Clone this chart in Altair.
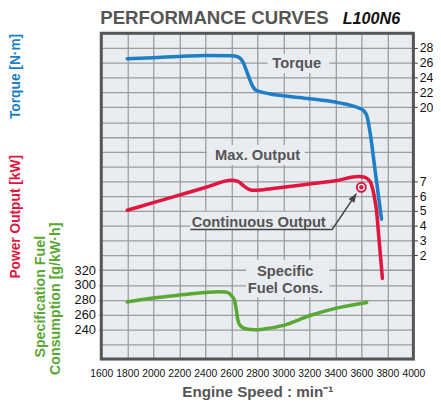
import altair as alt
import pandas as pd

# ---------------- data ----------------
torque_rpm = [1800, 2000, 2200, 2400, 2600, 2650, 2690, 2730, 2760, 2790, 2900, 3000, 3200, 3400, 3500, 3580, 3620, 3645, 3667, 3710, 3755]
torque_nm = [26.55, 26.7, 26.85, 27.0, 26.95, 26.8, 26.1, 24.3, 23.0, 22.3, 21.8, 21.55, 21.15, 20.7, 20.35, 19.9, 19.5, 18.7, 16.6, 10.9, 4.9]

power_rpm = [1800, 2000, 2200, 2400, 2600, 2650, 2700, 2760, 2850, 3000, 3200, 3400, 3580, 3620, 3650, 3675, 3692, 3705, 3717, 3730, 3762]
power_kw = [5.05, 5.56, 6.07, 6.58, 7.08, 7.0, 6.66, 6.4, 6.44, 6.6, 6.82, 7.04, 7.33, 7.3, 7.15, 6.85, 6.3, 5.7, 5.0, 3.7, 0.45]

fuel_rpm = [1800, 1900, 2000, 2200, 2400, 2500, 2560, 2600, 2625, 2640, 2650, 2670, 2710, 2780, 2850, 3000, 3200, 3400, 3640]
fuel_g = [277, 280, 282.5, 286.5, 290, 291, 290.5, 286, 279, 265, 253, 245, 241, 239.5, 240.5, 245.5, 258.5, 268.5, 276.5]

x_ticks = list(range(1600, 4001, 200))
torque_ticks = [20, 22, 24, 26, 28]
power_ticks = [2, 3, 4, 5, 6, 7]
fuel_ticks = [240, 260, 280, 300, 320]
grid_rows = list(range(200, 641, 20))

# label annotations (in fuel-scale units)
label_text = ["Torque", "Max. Output", "Continuous Output", "Specific", "Fuel Cons."]
label_rpm = [3103, 2802, 2811, 3015, 3015]
label_val = [599, 476, 385, 318.5, 296.5]

box_rpm1 = [2879, 2413, 2285, 2713]
box_rpm2 = [3353, 3165, 3361, 3353]
box_val1 = [612, 489, 399, 334]
box_val2 = [586, 462, 375, 283]

cont_rpm = [3600]
cont_kw = [6.6]

arrow_rpm = [2285, 3376, 3560]
arrow_val = [375, 375, 423]

BLUE = "#1d7fc5"
RED = "#e0163f"
GREEN = "#5aa834"
GRAY = "#555555"
FONT = "Liberation Sans"
W, H = 318, 332

# torque and power share one right-hand axis: power p sits on the torque
# scale's gridline where torque = 2p - 4 (both scales are aligned to the grid)
right_vals = [2 * p - 4 for p in power_ticks] + torque_ticks
right_label = "datum.value < 15 ? format((datum.value + 4) / 2, 'd') : format(datum.value, 'd')"

x_scale = alt.Scale(domain=[1600, 4000], nice=False, zero=False)
x_axis = alt.Axis(values=x_ticks, grid=True, gridColor="#9c9c9c", gridWidth=1.3,
                  ticks=False, domain=False, labelFontSize=10.5, labelColor="#111",
                  labelPadding=10, labelFont=FONT, format="d", labelFlush=False,
                  labelOverlap=False,
                  title="Engine Speed : min⁻¹", titleFont=FONT, titleFontSize=15.5,
                  titleFontWeight="bold", titleColor=GRAY, titlePadding=6)

def X(field):
    return alt.X(field, type="quantitative", scale=x_scale, axis=x_axis)

fuel_scale = alt.Scale(domain=[200, 640], nice=False, zero=False)
torque_scale = alt.Scale(domain=[-14, 30], nice=False, zero=False)
power_scale = alt.Scale(domain=[-5, 17], nice=False, zero=False)

df_t = pd.DataFrame({"rpm": torque_rpm, "v": torque_nm})
df_p = pd.DataFrame({"rpm": power_rpm, "v": power_kw})
df_f = pd.DataFrame({"rpm": fuel_rpm, "v": fuel_g})
df_lab = pd.DataFrame({"rpm": label_rpm, "v": label_val, "t": label_text})
df_box = pd.DataFrame({"r1": box_rpm1, "r2": box_rpm2, "v1": box_val1, "v2": box_val2})
df_c = pd.DataFrame({"rpm": cont_rpm, "v": cont_kw})
df_arr = pd.DataFrame({"rpm": arrow_rpm, "v": arrow_val, "o": [0, 1, 2]})
df_tip = pd.DataFrame({"rpm": [arrow_rpm[-1] + 4], "v": [arrow_val[-1] + 1]})
one = pd.DataFrame({"a": [0]})

fuel_axis = alt.Axis(values=grid_rows, grid=True, gridColor="#9c9c9c", gridWidth=1.3,
                     labelExpr="datum.value >= 240 && datum.value <= 320 ? datum.label : ''",
                     ticks=True, tickSize=3, tickColor="#aaaaaa",
                     tickOpacity={"condition": {"test": "datum.value >= 240 && datum.value <= 320",
                                                "value": 1}, "value": 0},
                     domain=False, labelFontSize=13, labelColor="#111", labelFont=FONT,
                     labelPadding=3, title=None, orient="left")

boxes = alt.Chart(df_box).mark_rect(fill="#e9ecf1").encode(
    x=X("r1"), x2="r2",
    y=alt.Y("v1:Q", scale=fuel_scale, axis=None), y2="v2",
)

fuel = alt.Chart(df_f).mark_line(color=GREEN, strokeWidth=3.6, strokeCap="round",
                                 interpolate="monotone").encode(
    x=X("rpm"),
    y=alt.Y("v:Q", scale=fuel_scale, axis=fuel_axis),
)

torque = alt.Chart(df_t).mark_line(color=BLUE, strokeWidth=3.6, strokeCap="round",
                                   interpolate="monotone").encode(
    x=X("rpm"),
    y=alt.Y("v:Q", scale=torque_scale,
            axis=alt.Axis(values=right_vals, labelExpr=right_label, grid=False, ticks=True,
                          tickSize=4, tickColor="#333", domain=False, labelFontSize=12.5,
                          labelColor="#111", labelFont=FONT, labelPadding=2,
                          title=None, orient="right")),
)

power = alt.Chart(df_p).mark_line(color=RED, strokeWidth=3.6, strokeCap="round",
                                  interpolate="monotone").encode(
    x=X("rpm"),
    y=alt.Y("v:Q", scale=power_scale, axis=None),
)

cont_ring = alt.Chart(df_c).mark_point(shape="circle", filled=True, fill="white",
                                       stroke=RED, strokeWidth=2, size=85, opacity=1).encode(
    x=X("rpm"), y=alt.Y("v:Q", scale=power_scale, axis=None))
cont_dot = alt.Chart(df_c).mark_point(shape="circle", filled=True, color=RED, size=20,
                                      opacity=1).encode(
    x=X("rpm"), y=alt.Y("v:Q", scale=power_scale, axis=None))

arrow = alt.Chart(df_arr).mark_line(color="#444", strokeWidth=1.5).encode(
    x=X("rpm"), y=alt.Y("v:Q", scale=fuel_scale, axis=None), order="o:Q")
tip = alt.Chart(df_tip).mark_point(shape="M0,0 L0.75,2 L-0.75,2 Z", filled=True,
                                   color="#444", size=90, angle=34, opacity=1).encode(
    x=X("rpm"), y=alt.Y("v:Q", scale=fuel_scale, axis=None))

labels = alt.Chart(df_lab).mark_text(font=FONT, fontSize=15, fontWeight="bold",
                                     color=GRAY, baseline="middle", align="center").encode(
    x=X("rpm"), y=alt.Y("v:Q", scale=fuel_scale, axis=None), text="t:N")

def deco(text, x, y, size, color, angle=0, align="left", style="normal"):
    return alt.Chart(one).mark_text(text=text, font=FONT, fontSize=size, fontWeight="bold",
                                    fontStyle=style, color=color, angle=angle, align=align,
                                    baseline="alphabetic").encode(
        x=alt.value(x), y=alt.value(y))

frame = alt.Chart(one).mark_rect(fill="transparent", stroke="#555", strokeWidth=3).encode(
    x=alt.value(0), x2=alt.value(W), y=alt.value(0), y2=alt.value(H))

texts = [
    deco("PERFORMANCE CURVES", -1, -9, 19, GRAY),
    deco("L100N6", 246, -9.5, 16.5, "#111", style="italic"),
    deco("Torque [N·m]", -83, 44, 14, BLUE, angle=270, align="center"),
    deco("Power Output [kW]", -83, 187, 14, RED, angle=270, align="center"),
    deco("Specification Fuel", -57.5, 268.5, 14.5, GREEN, angle=270, align="center"),
    deco("Consumption [g/kW·h]", -42.5, 270.5, 14.5, GREEN, angle=270, align="center"),
]

chart = alt.layer(boxes, fuel, torque, power, arrow, tip, labels, cont_ring, cont_dot,
                  frame, *texts).resolve_scale(y="independent").properties(
    width=W, height=H,
    padding={"left": 95, "top": 22, "right": 20, "bottom": 39},
    autosize=alt.AutoSizeParams(type="none"),
    background="white",
).configure_view(fill="#e9ecf1", stroke=None)

chart.save("out.html", embed_options={"renderer": "svg", "actions": False})
